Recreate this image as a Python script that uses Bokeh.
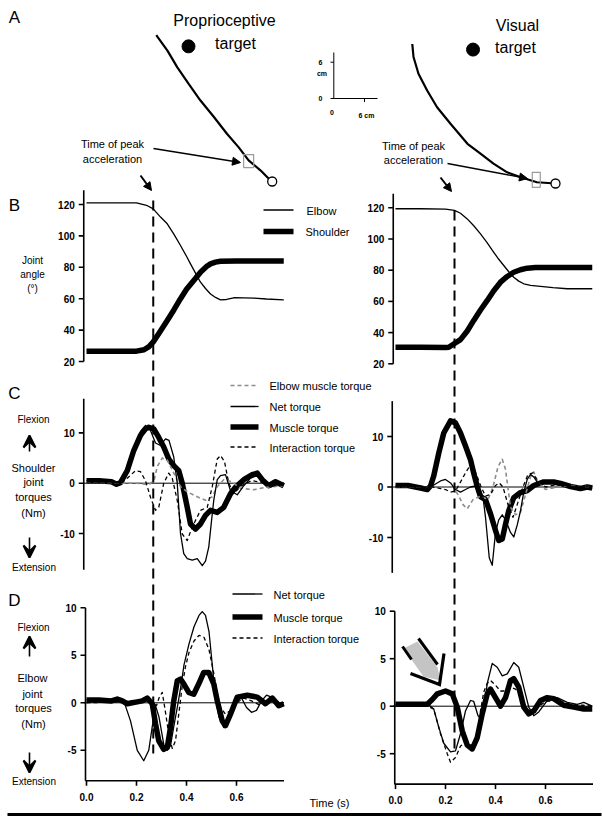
import numpy as np
from bokeh.plotting import figure
from bokeh.models import Range1d, Arrow, NormalHead, VeeHead
from bokeh.core.properties import value
from bokeh.embed import file_html
from bokeh.resources import INLINE

# ------------------------------------------------------------------ data
# Panel A: hand paths (cm, relative to start position)
pathL_x = [-18.7, -16.9, -15.3, -13.5, -11.6, -9.4, -7.3, -5.4, -3.8, -1.9, -0.3, 0]
pathL_y = [23.6, 21.1, 18.4, 15.8, 13.1, 10.4, 7.7, 5.5, 3.4, 1.8, 0.2, 0]
pathR_x = [-23.1, -22.9, -22.1, -20.7, -19.1, -16.9, -14.2, -12.1, -10.0, -7.8, -5.6, -3.0, 0]
pathR_y = [22.5, 20.4, 17.7, 15.0, 12.3, 9.6, 6.4, 4.8, 3.2, 1.8, 1.0, 0.2, 0]
targetL = (-13.5, 21.8)
targetR = (-13.3, 21.6)
peakaccL = (-3.8, 3.3)
peakaccR = (-3.1, 0.6)
t_peak_L = 0.267
t_peak_R = 0.236

# Panel B: joint angles (deg)
tB_elb_L = [0, 0.1, 0.2, 0.216, 0.24, 0.267, 0.296, 0.323, 0.35, 0.376, 0.4, 0.416, 0.436, 0.456, 0.476, 0.496, 0.516, 0.536, 0.56, 0.589, 0.63, 0.669, 0.72, 0.789]
elbow_L = [121, 121, 121, 120.4, 119.5, 117.2, 112, 107.7, 101, 93.9, 87, 82.2, 76.3, 70.5, 66.5, 63, 60.8, 59.3, 59.5, 60.6, 60.5, 60.4, 59.8, 59.3]
tB_sh_L = [0, 0.1, 0.2, 0.23, 0.25, 0.267, 0.29, 0.323, 0.35, 0.376, 0.4, 0.429, 0.456, 0.48, 0.496, 0.516, 0.536, 0.6, 0.7, 0.789]
shoulder_L = [26.6, 26.6, 26.6, 27.5, 29.5, 32.5, 38, 46.1, 53, 60, 66, 71.6, 76.9, 80.5, 82.2, 83.3, 83.9, 84, 84, 84]
tB_elb_R = [0, 0.1, 0.2, 0.236, 0.26, 0.287, 0.313, 0.34, 0.367, 0.393, 0.413, 0.433, 0.453, 0.473, 0.493, 0.513, 0.54, 0.58, 0.63, 0.687, 0.787]
elbow_R = [119.4, 119.4, 119.2, 118.3, 116.5, 112.9, 108.5, 103.3, 97.5, 91.5, 87, 83, 79, 75.5, 73, 71.3, 70.3, 69.6, 68.8, 68.1, 68.1]
tB_sh_R = [0, 0.1, 0.2, 0.213, 0.236, 0.26, 0.287, 0.313, 0.34, 0.367, 0.393, 0.42, 0.447, 0.473, 0.5, 0.527, 0.56, 0.65, 0.787]
shoulder_R = [30.6, 30.6, 30.4, 30.6, 33, 35.5, 41, 47.8, 54.5, 60.6, 66.8, 72.3, 76, 78.7, 80.3, 81.3, 81.7, 81.8, 81.8]

# Panel C: shoulder joint torques (Nm)
tC_mus_L = [0, 0.05, 0.1, 0.12, 0.136, 0.163, 0.189, 0.216, 0.236, 0.249, 0.269, 0.289, 0.309, 0.329, 0.349, 0.369, 0.383, 0.403, 0.416, 0.436, 0.456, 0.476, 0.496, 0.523, 0.549, 0.576, 0.596, 0.629, 0.663, 0.683, 0.703, 0.729, 0.756, 0.789]
muscle_C_L = [0.5, 0.5, 0.3, -0.2, 0.1, 2.5, 6.5, 9.5, 10.8, 11.1, 10.8, 9.1, 7.2, 4.8, 3.5, 2.5, 0, -4.8, -8.1, -9.1, -8.1, -6.4, -5.4, -5.8, -4.8, -2.1, -0.8, 0.7, 1.7, 2.0, 0.7, -0.5, 0.3, -0.5]
tC_net_L = [0, 0.1, 0.136, 0.163, 0.189, 0.216, 0.236, 0.256, 0.276, 0.296, 0.316, 0.33, 0.349, 0.363, 0.376, 0.389, 0.403, 0.423, 0.443, 0.463, 0.476, 0.489, 0.499, 0.509, 0.523, 0.536, 0.556, 0.576, 0.603, 0.629, 0.656, 0.683, 0.709, 0.736, 0.763, 0.789]
net_C_L = [0.5, 0.3, 0.1, 2.7, 7.0, 10.3, 11.5, 10.5, 8.0, 7.5, 8.8, 8.5, 5.2, 0, -10.0, -14.0, -15.0, -15.3, -15.0, -16.4, -15.5, -12.7, -8.0, -3.4, 0.7, 1.5, 1.7, -1.5, -2.3, -0.5, 1.0, 1.5, 0.3, -0.8, -0.3, -0.5]
tC_int_L = [0, 0.14, 0.163, 0.196, 0.216, 0.236, 0.256, 0.276, 0.289, 0.309, 0.329, 0.343, 0.363, 0.383, 0.403, 0.423, 0.456, 0.483, 0.503, 0.523, 0.536, 0.552, 0.569, 0.589, 0.62, 0.66, 0.7, 0.74, 0.789]
inter_C_L = [0, 0, 1.0, 2.5, 2.3, 0.5, -2.8, -5.4, -4.8, 0, 2.0, 1.0, -3.4, -10.1, -11.4, -8.7, -5.4, -4.8, -0.7, 4.8, 5.5, 4.3, 0, -2.0, -0.5, 0.5, 0.2, -0.3, 0]
tC_elb_L = [0, 0.2, 0.25, 0.27, 0.283, 0.303, 0.323, 0.349, 0.376, 0.403, 0.443, 0.476, 0.503, 0.523, 0.549, 0.58, 0.616, 0.669, 0.72, 0.789]
elbmus_C_L = [0, 0, -0.3, 0.5, 3.3, 5.0, 4.6, 2.0, -0.7, -1.7, -2.7, -3.4, -2.7, -0.7, 0.7, 0.3, -1.0, -1.3, -0.8, -0.5]

tC_mus_R = [0, 0.05, 0.1, 0.127, 0.14, 0.153, 0.173, 0.193, 0.22, 0.24, 0.26, 0.28, 0.3, 0.313, 0.327, 0.34, 0.36, 0.38, 0.4, 0.413, 0.427, 0.44, 0.453, 0.473, 0.5, 0.527, 0.553, 0.593, 0.633, 0.66, 0.7, 0.74, 0.767, 0.787]
muscle_C_R = [0.3, 0.3, -0.2, -0.5, 0.2, 2.2, 6.7, 10.7, 13.1, 12.7, 10.7, 8.1, 5.4, 2.7, 0.1, -1.9, -2.5, -5.3, -8.6, -10.6, -10.3, -7.4, -4.7, -2.1, -1.1, -0.7, 0.3, 1.0, 1.0, 0.7, 0.1, -0.3, 0, -0.2]
tC_net_R = [0, 0.1, 0.127, 0.15, 0.18, 0.2, 0.22, 0.24, 0.26, 0.28, 0.3, 0.32, 0.34, 0.35, 0.36, 0.375, 0.387, 0.4, 0.413, 0.427, 0.44, 0.46, 0.473, 0.487, 0.5, 0.513, 0.527, 0.54, 0.553, 0.573, 0.6, 0.65, 0.7, 0.74, 0.787]
net_C_R = [0.2, 0.2, -0.3, 0.3, 1.2, 1.5, 0.8, -0.5, -1.0, -0.5, 0, 0.2, -0.8, -2.0, -6.0, -14.0, -15.5, -9.0, -6.5, -5.5, -6.5, -9.0, -9.9, -7.5, -4.7, -1.0, 1.5, 2.5, 2.0, 0.5, 0.8, 0.7, 0, -0.5, -0.3]
tC_int_R = [0, 0.15, 0.18, 0.2, 0.22, 0.24, 0.26, 0.28, 0.3, 0.32, 0.34, 0.36, 0.38, 0.4, 0.415, 0.43, 0.45, 0.47, 0.49, 0.51, 0.53, 0.55, 0.57, 0.6, 0.65, 0.7, 0.787]
inter_C_R = [0, 0, -0.3, -0.5, -1.0, -0.8, 1.0, 2.8, 4.4, 3.0, 0.3, -1.8, -1.5, 0.3, 0.8, 0, -3.5, -6.0, -3.0, 0, 2.5, 2.8, 1.0, 0, 0.5, 0.2, 0]
tC_elb_R = [0, 0.23, 0.25, 0.27, 0.287, 0.31, 0.34, 0.37, 0.39, 0.41, 0.427, 0.44, 0.46, 0.48, 0.5, 0.52, 0.54, 0.553, 0.57, 0.6, 0.65, 0.7, 0.787]
elbmus_C_R = [0, 0, -1.5, -3.5, -4.3, -2.5, -1.8, -2.5, 0, 4.0, 5.5, 3.5, -4.0, -5.5, -5.0, -1.5, 2.0, 3.0, 1.0, -0.5, 0, 0.3, 0]

# Panel D: elbow joint torques (Nm)
tD_mus_L = [0, 0.05, 0.1, 0.123, 0.143, 0.163, 0.183, 0.203, 0.223, 0.243, 0.263, 0.276, 0.289, 0.309, 0.323, 0.336, 0.349, 0.363, 0.376, 0.389, 0.409, 0.429, 0.449, 0.469, 0.489, 0.509, 0.523, 0.543, 0.556, 0.576, 0.603, 0.643, 0.683, 0.716, 0.743, 0.769, 0.789]
muscle_D_L = [0.3, 0.3, 0.2, 0.4, 0.2, -0.1, 0.0, 0.1, 0.2, 0.5, -0.1, -2.2, -4.0, -4.9, -4.7, -2.6, 0.2, 2.3, 2.5, 2.0, 1.1, 0.9, 2.0, 3.2, 3.2, 2.0, 0.2, -1.9, -2.4, -1.2, 0.6, 0.8, 0.6, -0.1, 0.5, -0.3, -0.1]
tD_net_L = [0, 0.1, 0.149, 0.176, 0.203, 0.229, 0.249, 0.263, 0.276, 0.29, 0.31, 0.323, 0.336, 0.349, 0.363, 0.376, 0.39, 0.41, 0.43, 0.45, 0.463, 0.476, 0.49, 0.503, 0.516, 0.53, 0.549, 0.563, 0.58, 0.6, 0.62, 0.64, 0.66, 0.68, 0.7, 0.72, 0.74, 0.76, 0.789]
net_D_L = [0.3, 0.3, 0.2, -1.9, -5.0, -6.1, -5.0, -2.5, -0.3, -1.5, -4.5, -5.0, -4.5, -2.5, -0.5, 1.5, 4.0, 6.2, 8.0, 9.2, 9.6, 9.2, 7.5, 4.0, 0.5, -1.5, -2.6, -2.2, -1.0, 0.2, 0.5, -0.5, -1.0, -0.8, 0.2, 0.8, 0.6, 0.0, -0.2]
tD_int_L = [0, 0.26, 0.28, 0.29, 0.303, 0.316, 0.33, 0.343, 0.356, 0.37, 0.383, 0.396, 0.41, 0.43, 0.45, 0.47, 0.49, 0.51, 0.523, 0.536, 0.556, 0.576, 0.6, 0.63, 0.66, 0.69, 0.72, 0.75, 0.789]
inter_D_L = [0, 0.2, -0.3, 0.5, 1.1, -1.0, -3.5, -4.8, -4.0, -1.0, 1.8, 3.8, 5.3, 6.5, 7.1, 6.9, 5.6, 3.0, 1.0, -0.5, -1.2, -0.8, 0, 0.5, 0.2, -0.2, 0.3, 0.2, 0]

tD_mus_R = [0, 0.05, 0.1, 0.127, 0.147, 0.167, 0.2, 0.227, 0.247, 0.267, 0.287, 0.307, 0.327, 0.347, 0.367, 0.38, 0.4, 0.42, 0.44, 0.46, 0.473, 0.493, 0.513, 0.533, 0.553, 0.58, 0.607, 0.633, 0.673, 0.713, 0.753, 0.787]
muscle_D_R = [0.2, 0.2, 0.2, 0.2, 0.7, 1.3, 1.6, 1.3, -0.1, -2.6, -4.1, -4.5, -3.3, -0.8, 1.3, 1.8, 0.9, 0, 0.9, 2.7, 2.9, 2.0, -0.1, -0.8, -0.5, 0.6, 0.9, 0.8, 0.1, -0.1, -0.3, -0.3]
tD_net_R = [0, 0.1, 0.13, 0.153, 0.173, 0.193, 0.22, 0.24, 0.26, 0.28, 0.3, 0.313, 0.33, 0.345, 0.355, 0.367, 0.387, 0.407, 0.427, 0.447, 0.473, 0.493, 0.513, 0.533, 0.553, 0.573, 0.607, 0.647, 0.687, 0.727, 0.753, 0.787]
net_D_R = [0.2, 0.2, 0.2, -0.3, -2.2, -3.9, -4.8, -4.7, -2.9, -0.5, 0.6, 0.5, -1.0, -1.5, 0.0, 2.4, 4.5, 4.1, 3.2, 3.4, 4.6, 4.1, 2.0, -0.1, -1.0, -0.6, 0.6, 0.9, 0.4, 0.2, 0.4, 0.0]
tD_int_R = [0, 0.13, 0.153, 0.18, 0.207, 0.22, 0.24, 0.26, 0.28, 0.3, 0.313, 0.327, 0.34, 0.353, 0.367, 0.38, 0.4, 0.42, 0.44, 0.46, 0.48, 0.5, 0.52, 0.54, 0.56, 0.6, 0.65, 0.7, 0.75, 0.787]
inter_D_R = [0, 0, -0.3, -2.9, -5.0, -5.9, -5.4, -4.2, -3.8, -4.3, -4.5, -3.3, -0.5, 1.5, 2.4, 2.7, 2.2, 1.6, 1.6, 2.0, 1.8, 1.2, -0.2, -0.5, -0.3, 0.5, 0.6, 0.2, 0.1, 0]

# axis ticks
B_ticks = [20, 40, 60, 80, 100, 120]
C_ticks = [-10, 0, 10]
D_ticks = [-5, 0, 5, 10]
time_ticks = [0.0, 0.2, 0.4, 0.6]

# ------------------------------------------------------------------ figure
XL, XR, YT, YB = 0, 602, 0, 821
p = figure(width=XR - XL, height=YB - YT, x_range=Range1d(XL, XR), y_range=Range1d(YB, YT),
           output_backend="svg", toolbar_location=None, x_axis_type=None, y_axis_type=None,
           min_border=0, outline_line_color=None)
p.background_fill_color = "white"
p.border_fill_color = "white"


def xr(x0, s):
    return Range1d((XL - x0) / s, (XR - x0) / s)


def yr(y0, k):
    return Range1d((y0 - YB) / k, (y0 - YT) / k)


p.extra_x_ranges = {"tL": xr(86, 250), "tR": xr(395, 250), "aL": xr(271.7, 6.2), "aR": xr(555, 6.2)}
p.extra_y_ranges = {"BL": yr(392.4, 1.57), "BR": yr(394.5, 1.56),
                    "CL": yr(482.7, 5.03), "CR": yr(486.5, 5.05),
                    "DL": yr(702.3, 9.5), "DR": yr(705.7, 9.5),
                    "aL": yr(181, 6.2), "aR": yr(183, 6.2)}

FONT = value("Liberation Sans")


def txt(x, y, s, size=11, align="center", style="normal", baseline="middle", color="black"):
    p.text(x=[x], y=[y], text=[s], text_font=FONT, text_font_size=f"{size}px",
           text_align=align, text_baseline=baseline, text_font_style=style, text_color=color)


THIN = dict(line_color="black", line_width=1.3)
THICK = dict(line_color="black", line_width=5.5)
INTER = dict(line_color="black", line_width=1.3, line_dash="4 3")
ELB = dict(line_color="#8c8c8c", line_width=1.6, line_dash="4 3")


def series(xn, yn, t, v, sty):
    p.line(t, v, x_range_name=xn, y_range_name=yn, line_join="round", **sty)


def yaxis(xn, yn, lo, hi, ticks, at):
    p.segment(x0=[at], y0=[lo], x1=[at], y1=[hi], x_range_name=xn, y_range_name=yn,
              line_color="black", line_width=1.6)
    p.ray(x=[at] * len(ticks), y=ticks, length=5, length_units="screen", angle=np.pi,
          x_range_name=xn, y_range_name=yn, line_color="black", line_width=1.6)
    p.text(x=[at] * len(ticks), y=ticks, text=[str(t) for t in ticks], x_offset=-9,
           x_range_name=xn, y_range_name=yn, text_font=FONT, text_font_size="10px",
           text_font_style="bold", text_align="right", text_baseline="middle")


def zero_line(xn, yn, t_end):
    p.segment(x0=[-0.01], y0=[0], x1=[t_end], y1=[0], x_range_name=xn, y_range_name=yn,
              line_color="black", line_width=1)


def time_axis(xn, yn, lo, t_end):
    p.segment(x0=[-0.004], y0=[lo], x1=[t_end], y1=[lo], x_range_name=xn, y_range_name=yn,
              line_color="black", line_width=1.6)
    p.ray(x=time_ticks, y=[lo] * len(time_ticks), length=5, length_units="screen", angle=-np.pi / 2,
          x_range_name=xn, y_range_name=yn, line_color="black", line_width=1.6)
    p.text(x=time_ticks, y=[lo] * len(time_ticks), text=[f"{t:.1f}" for t in time_ticks], y_offset=12,
           x_range_name=xn, y_range_name=yn, text_font=FONT, text_font_size="10px",
           text_font_style="bold", text_align="center", text_baseline="top")


# ---------------- Panel A
for side, px, py, tg, pk in (("aL", pathL_x, pathL_y, targetL, peakaccL),
                             ("aR", pathR_x, pathR_y, targetR, peakaccR)):
    p.line(px, py, x_range_name=side, y_range_name=side, line_color="black", line_width=2.2)
    p.scatter([tg[0]], [tg[1]], x_range_name=side, y_range_name=side, size=13,
              fill_color="black", line_color="black")
    p.scatter([px[-1]], [py[-1]], x_range_name=side, y_range_name=side, size=9,
              fill_color="white", line_color="black", line_width=1.3)
p.rect([peakaccL[0]], [peakaccL[1]], width=10, height=13, width_units="screen", height_units="screen",
       x_range_name="aL", y_range_name="aL", fill_color=None, line_color="#9a9a9a", line_width=1.2)
p.rect([peakaccR[0]], [peakaccR[1]], width=8, height=15, width_units="screen", height_units="screen",
       x_range_name="aR", y_range_name="aR", fill_color=None, line_color="#9a9a9a", line_width=1.2)

txt(14, 17, "A", size=17)
txt(224, 20, "Proprioceptive", size=16)
txt(235, 43, "target", size=16)
txt(517, 25, "Visual", size=16)
txt(515, 47, "target", size=16)
txt(112, 143, "Time of peak", size=11)
txt(112, 158, "acceleration", size=11)
txt(413, 145, "Time of peak", size=11)
txt(413, 159, "acceleration", size=11)
p.add_layout(Arrow(end=NormalHead(size=8, fill_color="black", line_color="black"),
                   x_start=153, y_start=148, x_end=240, y_end=162, line_width=1.3))
p.add_layout(Arrow(end=NormalHead(size=8, fill_color="black", line_color="black"),
                   x_start=447, y_start=163, x_end=527, y_end=178, line_width=1.3))
p.add_layout(Arrow(end=NormalHead(size=8, fill_color="black", line_color="black"),
                   x_start=140, y_start=175, x_end=151, y_end=190, line_width=2))
p.add_layout(Arrow(end=NormalHead(size=8, fill_color="black", line_color="black"),
                   x_start=440, y_start=177, x_end=451, y_end=191, line_width=2))

# scale inset
p.segment(x0=[333.3, 330], y0=[52, 98], x1=[333.3, 377], y1=[98, 98], line_color="black", line_width=1)
p.segment(x0=[330, 364], y0=[61.7, 98], x1=[333.3, 364], y1=[61.7, 101.5], line_color="black", line_width=1)
txt(320, 61.5, "6", size=7, style="bold")
txt(321.5, 72.5, "cm", size=7, style="bold")
txt(320, 97.5, "0", size=7, style="bold")
txt(331.5, 112, "0", size=7, style="bold")
txt(366, 114.5, "6 cm", size=7, style="bold")

# ---------------- Panel B
txt(14, 205, "B", size=17)
for t, lab in ((260, "Joint"), (274, "angle"), (288, "(°)")):
    txt(32, t, lab, size=10)
yaxis("tL", "BL", 20, 129, B_ticks, -0.011)
yaxis("tR", "BR", 20, 129, B_ticks, -0.009)
series("tL", "BL", tB_sh_L, shoulder_L, THICK)
series("tL", "BL", tB_elb_L, elbow_L, THIN)
series("tR", "BR", tB_sh_R, shoulder_R, THICK)
series("tR", "BR", tB_elb_R, elbow_R, THIN)
p.segment(x0=[263], y0=[209.5], x1=[293], y1=[209.5], line_color="black", line_width=1.3)
p.segment(x0=[263], y0=[231], x1=[293], y1=[231], line_color="black", line_width=5.5)
txt(306, 210.5, "Elbow", size=11, align="left")
txt(305, 231.5, "Shoulder", size=11, align="left")

# ---------------- Panel C
txt(14, 393, "C", size=17)
txt(33, 419, "Flexion", size=10)
txt(33, 467, "Shoulder", size=11)
txt(33, 481.5, "joint", size=11)
txt(33, 496, "torques", size=11)
txt(33, 512.5, "(Nm)", size=11)
txt(33.5, 566.5, "Extension", size=10)
yaxis("tL", "CL", -17.2, 16.8, C_ticks, -0.011)
yaxis("tR", "CR", -17.0, 17.0, C_ticks, -0.013)
zero_line("tL", "CL", 0.789)
zero_line("tR", "CR", 0.787)
for xn, yn, a in (("tL", "CL", (tC_mus_L, muscle_C_L, tC_elb_L, elbmus_C_L, tC_int_L, inter_C_L, tC_net_L, net_C_L)),
                  ("tR", "CR", (tC_mus_R, muscle_C_R, tC_elb_R, elbmus_C_R, tC_int_R, inter_C_R, tC_net_R, net_C_R))):
    series(xn, yn, a[0], a[1], THICK)
    series(xn, yn, a[2], a[3], ELB)
    series(xn, yn, a[4], a[5], INTER)
    series(xn, yn, a[6], a[7], THIN)
leg_C = [(385, ELB, "Elbow muscle torque"), (406, THIN, "Net torque"),
         (426.5, THICK, "Muscle torque"), (446.5, INTER, "Interaction torque")]
for y, sty, lab in leg_C:
    p.line([230, 258], [y, y], **sty)
    txt(269, y + 0.5, lab, size=11, align="left")

# ---------------- Panel D
txt(14, 600, "D", size=17)
txt(33, 627, "Flexion", size=10)
txt(32, 677, "Elbow", size=11)
txt(32, 693, "joint", size=11)
txt(33, 707.5, "torques", size=11)
txt(33, 723.5, "(Nm)", size=11)
txt(33.5, 780.5, "Extension", size=10)
yaxis("tL", "DL", -8.2, 10, D_ticks, -0.004)
yaxis("tR", "DR", -8.2, 10, D_ticks, -0.003)
time_axis("tL", "DL", -8.2, 0.79)
time_axis("tR", "DR", -8.2, 0.79)
zero_line("tL", "DL", 0.789)
zero_line("tR", "DR", 0.787)
for xn, yn, a in (("tL", "DL", (tD_mus_L, muscle_D_L, tD_int_L, inter_D_L, tD_net_L, net_D_L)),
                  ("tR", "DR", (tD_mus_R, muscle_D_R, tD_int_R, inter_D_R, tD_net_R, net_D_R))):
    series(xn, yn, a[0], a[1], THICK)
    series(xn, yn, a[2], a[3], INTER)
    series(xn, yn, a[4], a[5], THIN)
leg_D = [(593.5, THIN, "Net torque"), (616.5, THICK, "Muscle torque"), (637.5, INTER, "Interaction torque")]
for y, sty, lab in leg_D:
    p.line([232, 262], [y, y], **sty)
    txt(273, y + 0.5, lab, size=11, align="left")
txt(329, 802, "Time (s)", size=11)

# flexion / extension arrows
for ys, ye in ((451, 435), (537, 557), (656, 636), (752, 772)):
    p.add_layout(Arrow(end=VeeHead(size=12, fill_color="black", line_color="black", line_width=2),
                       x_start=29, y_start=ys, x_end=29, y_end=ye, line_width=1.6))

# big grey arrow (panel D right)
p.patch([403, 417, 437, 440, 423], [648, 641, 667, 680, 676], fill_color="#c4c4c4", line_color=None)
p.line([418, 437], [638, 664], line_color="black", line_width=3)
p.line([402, 411], [646, 659], line_color="black", line_width=3)
p.line([410, 439, 443.5], [673, 684, 653], line_color="black", line_width=3.2, line_join="miter")

# peak-acceleration dashed lines
p.segment(x0=[t_peak_L], y0=[200], x1=[t_peak_L], y1=[753], x_range_name="tL",
          line_color="black", line_width=2, line_dash="10 6")
p.segment(x0=[t_peak_R], y0=[210], x1=[t_peak_R], y1=[748], x_range_name="tR",
          line_color="black", line_width=2, line_dash="10 6")

# bottom rule
p.segment(x0=[7], y0=[814], x1=[601], y1=[814], line_color="black", line_width=3)

open("out.html", "w").write(file_html(p, INLINE))
